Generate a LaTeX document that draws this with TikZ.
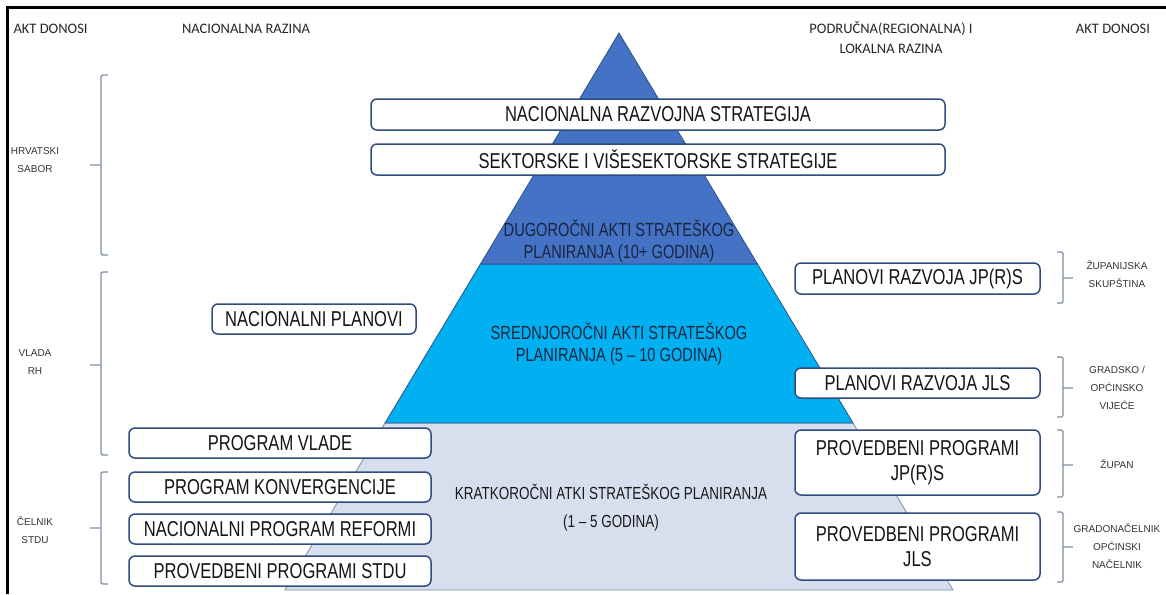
\documentclass[tikz,border=0pt]{standalone}
\usepackage{fontspec}
\setmainfont{Liberation Sans}
\newfontfamily\narrowfont[FakeStretch=0.77]{Liberation Sans}
\newfontfamily\headfont{Carlito}
\usetikzlibrary{calc}
\definecolor{dugoc}{HTML}{4472C4}
\definecolor{srednjec}{HTML}{00B0F0}
\definecolor{kratkoc}{HTML}{D7DFEF}
\definecolor{rubc}{HTML}{2F4F86}
\definecolor{boxc}{HTML}{2E4C80}
\definecolor{zagrc}{HTML}{7D8EA8}
\definecolor{tekstc}{HTML}{1A2540}
\tikzset{>=latex}

\begin{document}
\begin{tikzpicture}[x=1pt,y=-1pt,
  plan/.style={draw=boxc, line width=1.5pt, rounded corners=6pt, fill=white,
    inner sep=0pt, align=center, text=black!92,
    font=\narrowfont\fontsize{21.5}{25}\selectfont},
  sloj/.style={draw=rubc, line width=0.8pt},
  razina/.style={align=center, text=tekstc, font=\narrowfont\fontsize{19}{22}\selectfont},
  zaglavlje/.style={align=center, text=black!85, font=\headfont\fontsize{14.5}{20}\selectfont},
  donosi/.style={align=center, text=black!80, font=\fontsize{10}{18}\selectfont},
  zagrada/.style={draw=zagrc, line width=1.2pt, rounded corners=1.5pt}]
\useasboundingbox (0,0) rectangle (1166,594);
\draw[line width=3pt] (7,594) -- (7,8) -- (1166,8);

% piramida
\coordinate (vrh) at (619,33);
\coordinate (l1) at (480.5,264); \coordinate (d1) at (757.5,264);
\coordinate (l2) at (385,423);   \coordinate (d2) at (853,423);
\coordinate (l3) at (285,590);   \coordinate (d3) at (953,590);
\filldraw[sloj, fill=kratkoc, draw=zagrc] (l2) -- (d2) -- (d3) -- (l3) -- cycle;
\filldraw[sloj, fill=srednjec] (l1) -- (d1) -- (d2) -- (l2) -- cycle;
\filldraw[sloj, fill=dugoc] (vrh) -- (d1) -- (l1) -- cycle;

\node[razina] (dug) at (619,241) {DUGOROČNI AKTI STRATEŠKOG\\PLANIRANJA (10+ GODINA)};
\node[razina] (sred) at (619,344) {SREDNJOROČNI AKTI STRATEŠKOG\\PLANIRANJA (5 – 10 GODINA)};
\node[razina, text=black!90, font=\narrowfont\fontsize{17.5}{20}\selectfont] (krat) at (611,508)
  {KRATKOROČNI ATKI STRATEŠKOG PLANIRANJA\\[8pt](1 – 5 GODINA)};

% naslovi
\node[zaglavlje, anchor=west] (aktl) at (10,29) {AKT DONOSI};
\node[zaglavlje] (nac) at (246,29) {NACIONALNA RAZINA};
\node[zaglavlje] (lok) at (891,38) {PODRUČNA(REGIONALNA) I\\LOKALNA RAZINA};
\node[zaglavlje] (aktd) at (1113,29) {AKT DONOSI};

% akti
\node[plan, minimum width=574pt, minimum height=31pt] (nrs) at (658,114.5) {NACIONALNA RAZVOJNA STRATEGIJA};
\node[plan, minimum width=574pt, minimum height=31pt] (sis) at (658,159.5) {SEKTORSKE I VIŠESEKTORSKE STRATEGIJE};
\node[plan, minimum width=204pt, minimum height=30pt] (np) at (314,319) {NACIONALNI PLANOVI};
\node[plan, minimum width=302pt, minimum height=30pt] (pv) at (280,443) {PROGRAM VLADE};
\node[plan, minimum width=302pt, minimum height=30pt] (pk) at (280,487) {PROGRAM KONVERGENCIJE};
\node[plan, minimum width=302pt, minimum height=30pt] (npr) at (280,529) {NACIONALNI PROGRAM REFORMI};
\node[plan, minimum width=302pt, minimum height=30pt] (pps) at (280,571) {PROVEDBENI PROGRAMI STDU};
\node[plan, minimum width=245pt, minimum height=31pt] (prj) at (917.5,278.5) {PLANOVI RAZVOJA JP(R)S};
\node[plan, minimum width=245pt, minimum height=30pt] (prl) at (917.5,383) {PLANOVI RAZVOJA JLS};
\node[plan, minimum width=245pt, minimum height=65pt] (ppj) at (917.5,462.5) {PROVEDBENI PROGRAMI\\JP(R)S};
\node[plan, minimum width=245pt, minimum height=67pt] (ppl) at (917.5,546.5) {PROVEDBENI PROGRAMI\\JLS};

% zagrade
\foreach \g/\d/\s in {75/255/165, 272/455/365, 472/584/528}
  \draw[zagrada] (108,\g) -- (101,\g) -- (101,\d) -- (108,\d) (101,\s) -- (90,\s);
\foreach \g/\d/\s in {252/303/278, 357/417/388, 430/497/465, 512/582/547}
  \draw[zagrada] (1057,\g) -- (1063,\g) -- (1063,\d) -- (1057,\d) (1063,\s) -- (1073,\s);

\node[donosi] (sabor) at (35,160) {HRVATSKI\\SABOR};
\node[donosi] (vlada) at (35,362) {VLADA\\RH};
\node[donosi] (celnik) at (35,530) {ČELNIK\\STDU};
\node[donosi] (skup) at (1117,274) {ŽUPANIJSKA\\SKUPŠTINA};
\node[donosi] (vijece) at (1117,388) {GRADSKO /\\OPĆINSKO\\VIJEĆE};
\node[donosi] (zupan) at (1117,464) {ŽUPAN};
\node[donosi] (nacelnik) at (1117,546) {GRADONAČELNIK\\OPĆINSKI\\NAČELNIK};
\end{tikzpicture}
\end{document}
